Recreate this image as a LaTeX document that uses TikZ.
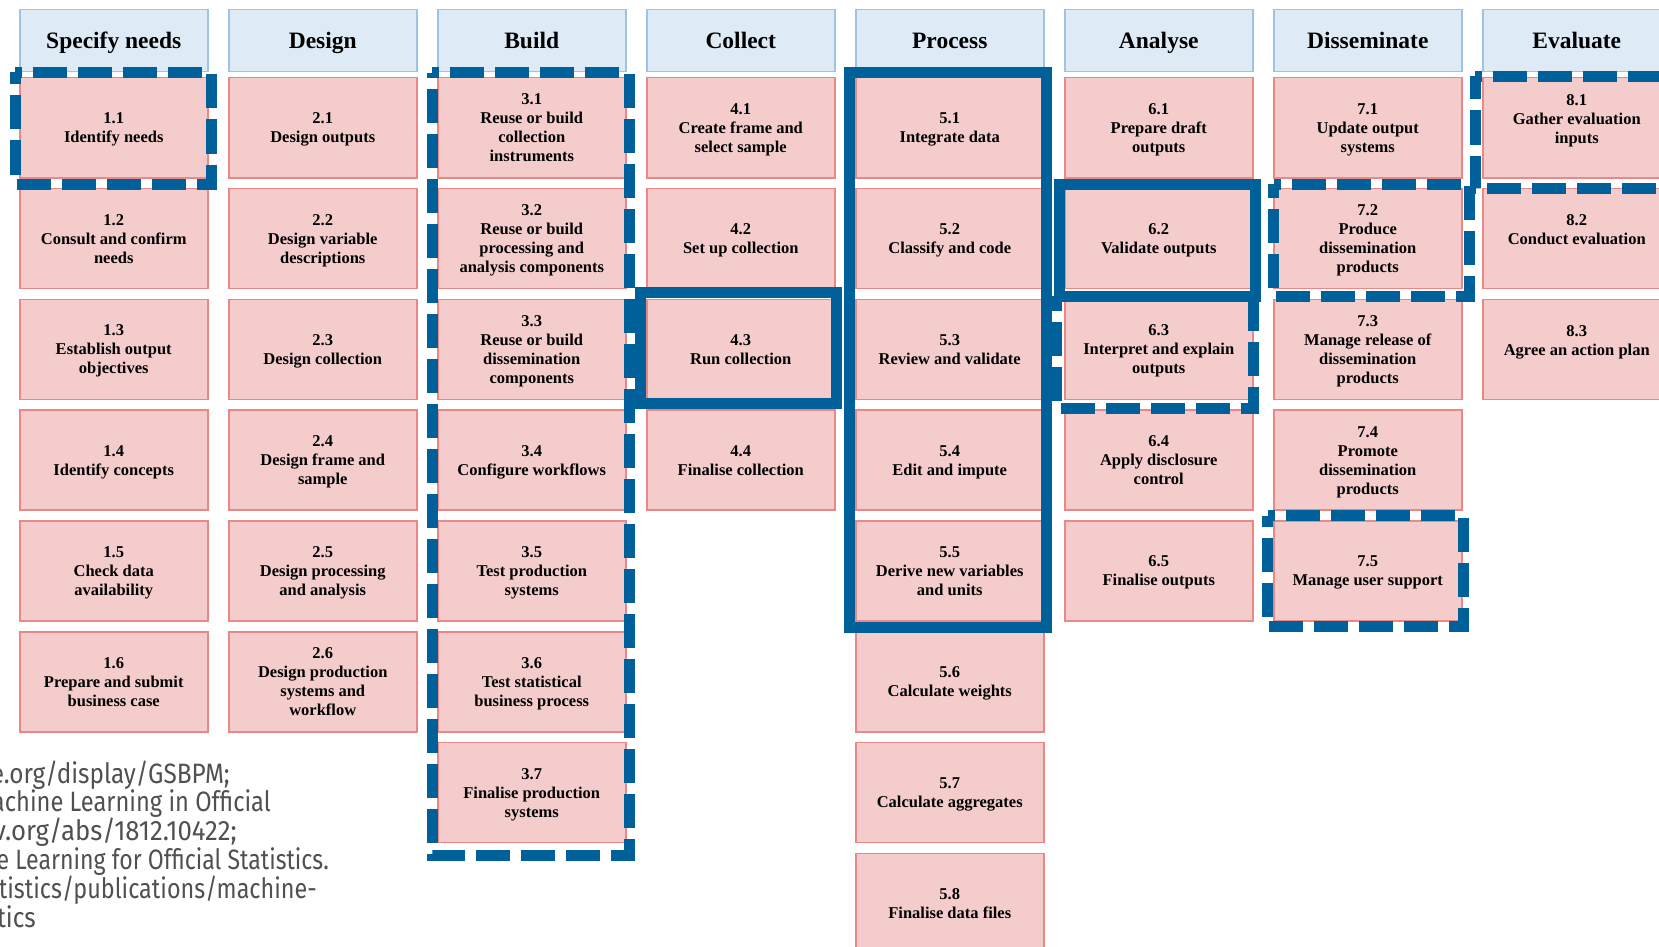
\documentclass[tikz,border=0pt]{standalone}
\usepackage{fontspec}
\setmainfont{Liberation Serif}
\newfontfamily\notefont{Fira Sans}
\definecolor{hlblue}{RGB}{0,97,154}
\definecolor{boxfill}{RGB}{244,204,204}
\definecolor{boxline}{RGB}{234,136,136}
\definecolor{headfill}{RGB}{222,235,247}
\definecolor{headline}{RGB}{157,195,230}
\definecolor{notegray}{RGB}{80,80,80}
\newcommand{\notetext}[2]{\scalebox{#1}[1]{#2}}
\begin{document}
\begin{tikzpicture}[x=1pt,y=-1pt,
  box/.style={draw=boxline, fill=boxfill, line width=1.5pt, minimum width=188pt, minimum height=100pt, inner sep=0pt, align=center, anchor=north west, text depth=-1pt, font=\fontsize{16.5}{19}\selectfont\bfseries},
  head/.style={draw=headline, fill=headfill, line width=1.5pt, minimum width=188pt, minimum height=62pt, inner sep=0pt, text height=21pt, text depth=5pt, anchor=north west, font=\fontsize{23.5}{28}\selectfont\bfseries},
  hlsolid/.style={draw=hlblue, line width=11pt, line join=miter},
  hldash/.style={draw=hlblue, line width=11pt, dash pattern=on 34pt off 11pt, dash phase=27pt},
  note/.style={anchor=base east, inner sep=0pt, text=notegray, font=\notefont\fontsize{28}{28}\selectfont}
]
\useasboundingbox (0,0) rectangle (1659,947);
% headers
\node[head] (h1) at (19,9) {Specify needs};
\node[head] (h2) at (228,9) {Design};
\node[head] (h3) at (437,9) {Build};
\node[head] (h4) at (646,9) {Collect};
\node[head] (h5) at (855,9) {Process};
\node[head] (h6) at (1064,9) {Analyse};
\node[head] (h7) at (1273,9) {Disseminate};
\node[head] (h8) at (1482,9) {Evaluate};
% column 1
\node[box] (b11) at (19,77) {1.1\\Identify needs};
\node[box] (b12) at (19,187.8) {1.2\\Consult and confirm\\needs};
\node[box] (b13) at (19,298.6) {1.3\\Establish output\\objectives};
\node[box] (b14) at (19,409.4) {1.4\\Identify concepts};
\node[box] (b15) at (19,520.2) {1.5\\Check data\\availability};
\node[box] (b16) at (19,631) {1.6\\Prepare and submit\\business case};
% column 2
\node[box] (b21) at (228,77) {2.1\\Design outputs};
\node[box] (b22) at (228,187.8) {2.2\\Design variable\\descriptions};
\node[box] (b23) at (228,298.6) {2.3\\Design collection};
\node[box] (b24) at (228,409.4) {2.4\\Design frame and\\sample};
\node[box] (b25) at (228,520.2) {2.5\\Design processing\\and analysis};
\node[box] (b26) at (228,631) {2.6\\Design production\\systems and\\workflow};
% column 3
\node[box] (b31) at (437,77) {3.1\\Reuse or build\\collection\\instruments};
\node[box] (b32) at (437,187.8) {3.2\\Reuse or build\\processing and\\analysis components};
\node[box] (b33) at (437,298.6) {3.3\\Reuse or build\\dissemination\\components};
\node[box] (b34) at (437,409.4) {3.4\\Configure workflows};
\node[box] (b35) at (437,520.2) {3.5\\Test production\\systems};
\node[box] (b36) at (437,631) {3.6\\Test statistical\\business process};
\node[box] (b37) at (437,741.8) {3.7\\Finalise production\\systems};
% column 4
\node[box] (b41) at (646,77) {4.1\\Create frame and\\select sample};
\node[box] (b42) at (646,187.8) {4.2\\Set up collection};
\node[box] (b43) at (646,298.6) {4.3\\Run collection};
\node[box] (b44) at (646,409.4) {4.4\\Finalise collection};
% column 5
\node[box] (b51) at (855,77) {5.1\\Integrate data};
\node[box] (b52) at (855,187.8) {5.2\\Classify and code};
\node[box] (b53) at (855,298.6) {5.3\\Review and validate};
\node[box] (b54) at (855,409.4) {5.4\\Edit and impute};
\node[box] (b55) at (855,520.2) {5.5\\Derive new variables\\and units};
\node[box] (b56) at (855,631) {5.6\\Calculate weights};
\node[box] (b57) at (855,741.8) {5.7\\Calculate aggregates};
\node[box] (b58) at (855,852.6) {5.8\\Finalise data files};
% column 6
\node[box] (b61) at (1064,77) {6.1\\Prepare draft\\outputs};
\node[box] (b62) at (1064,187.8) {6.2\\Validate outputs};
\node[box] (b63) at (1064,298.6) {6.3\\Interpret and explain\\outputs};
\node[box] (b64) at (1064,409.4) {6.4\\Apply disclosure\\control};
\node[box] (b65) at (1064,520.2) {6.5\\Finalise outputs};
% column 7
\node[box] (b71) at (1273,77) {7.1\\Update output\\systems};
\node[box] (b72) at (1273,187.8) {7.2\\Produce\\dissemination\\products};
\node[box] (b73) at (1273,298.6) {7.3\\Manage release of\\dissemination\\products};
\node[box] (b74) at (1273,409.4) {7.4\\Promote\\dissemination\\products};
\node[box] (b75) at (1273,520.2) {7.5\\Manage user support};
% column 8
\node[box] (b81) at (1482,77) {8.1\\Gather evaluation\\inputs\\[-1pt]\mbox{}};
\node[box] (b82) at (1482,187.8) {8.2\\Conduct evaluation\\[-1pt]\mbox{}};
\node[box] (b83) at (1482,298.6) {8.3\\Agree an action plan\\[-1pt]\mbox{}};
% dashed highlight frames
\draw[hldash] (15,72.5) -- (211,72.5) -- (211,184) -- (15,184) -- cycle;
\draw[hldash] (432,73) -- (629,73) -- (629,855) -- (432,855) -- cycle;
\draw[hldash] (1056.5,296) -- (1253.5,296) -- (1253.5,408) -- (1056.5,408) -- cycle;
\draw[hldash] (1273.5,184) -- (1469.5,184) -- (1469.5,296.5) -- (1273.5,296.5) -- cycle;
\draw[hldash] (1475,76.5) -- (1676,76.5) -- (1676,188.5) -- (1475,188.5) -- cycle;
\draw[hldash] (1267.5,515.5) -- (1463.5,515.5) -- (1463.5,626.5) -- (1267.5,626.5) -- cycle;
% solid highlight frames
\draw[hlsolid] (640.5,292) rectangle (836.5,403.5);
\draw[hlsolid] (849.5,72.5) rectangle (1046.5,627);
\draw[hlsolid] (1059,184) rectangle (1255.5,296);
% source note (cut off at the left edge)
\node[note] (n1) at (230,783) {\notetext{0.87}{e.org/display/GSBPM;}};
\node[note] (n2) at (271,811.8) {\notetext{0.845}{achine Learning in Official}};
\node[note] (n3) at (237,840.6) {\notetext{0.92}{v.org/abs/1812.10422;}};
\node[note] (n4) at (329,869.4) {\notetext{0.825}{e Learning for Official Statistics.}};
\node[note] (n5) at (317,898.2) {\notetext{0.835}{tistics/publications/machine-}};
\node[note] (n6) at (36,927) {\notetext{0.87}{tics}};
\end{tikzpicture}
\end{document}
